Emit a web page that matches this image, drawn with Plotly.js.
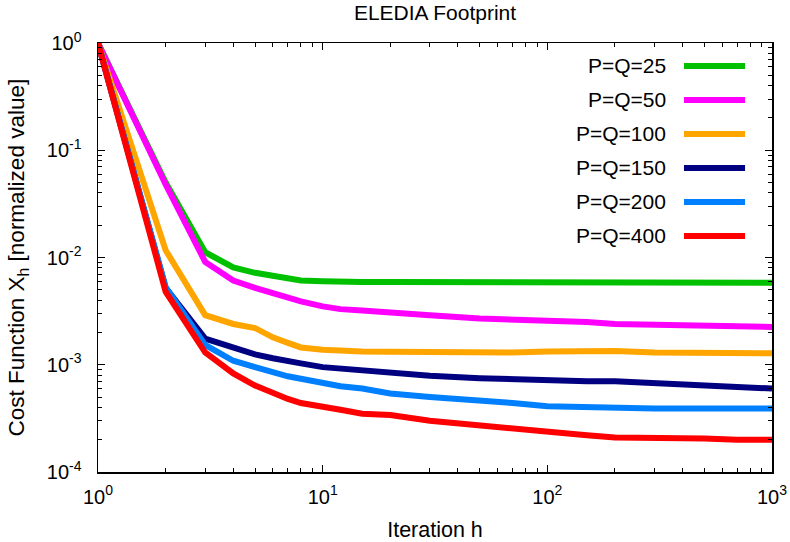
<!DOCTYPE html>
<html>
<head>
<meta charset="utf-8">
<script src="https://cdn.plot.ly/plotly-3.0.1.min.js"></script>
<style>html,body{margin:0;padding:0;background:#fff;}#chart{width:790px;height:542px;}</style>
</head>
<body>
<div id="chart"></div>
<script>
const iterations = [1,2,3,4,5,6,7,8,10,12,15,20,30,50,70,100,150,200,300,500,700,1000];
const seriesNames = ["P=Q=25","P=Q=50","P=Q=100","P=Q=150","P=Q=200","P=Q=400"];
const pq25  = [1,0.05,0.0112,0.0081,0.0072,0.0067,0.0063,0.0061,0.006,0.0059,0.0059,0.0059,0.0059,0.0058,0.0058,0.0058,0.0058,0.0058,0.0058,0.0058,0.0058,0.0058];
const pq50  = [1,0.048,0.0091,0.0061,0.0052,0.0046,0.0042,0.0039,0.0035,0.0033,0.0032,0.0031,0.0029,0.0027,0.00265,0.0026,0.0025,0.0024,0.00235,0.0023,0.00228,0.00225];
const pq100 = [1,0.0117,0.0029,0.0024,0.0022,0.0018,0.0016,0.00145,0.00138,0.00135,0.00133,0.00132,0.0013,0.0013,0.0013,0.00133,0.00136,0.00134,0.0013,0.00129,0.00128,0.00128];
const pq150 = [1,0.0052,0.00175,0.00143,0.00125,0.00115,0.0011,0.00103,0.00095,0.00092,0.0009,0.00084,0.00079,0.00075,0.00073,0.00071,0.0007,0.0007,0.00068,0.00065,0.00062,0.0006];
const pq200 = [1,0.0053,0.00153,0.00109,0.00095,0.00085,0.00078,0.00074,0.00068,0.00063,0.0006,0.00054,0.0005,0.00047,0.00044,0.00041,0.0004,0.0004,0.00039,0.00039,0.00039,0.00039];
const pq400 = [1,0.0048,0.0013,0.00083,0.00064,0.00054,0.00048,0.00044,0.0004,0.00038,0.00035,0.00034,0.0003,0.00027,0.00025,0.000235,0.00022,0.00021,0.00021,0.000205,0.0002,0.0002];
const seriesValues = [pq25,pq50,pq100,pq150,pq200,pq400];
const colors = ["#00c000","#ff00ff","#ffa500","#000080","#0080ff","#ff0000"];
const xTickVals = [1,10,100,1000];
const xTickText = ["10<sup>0</sup>","10<sup>1</sup>","10<sup>2</sup>","10<sup>3</sup>"];
const yTickVals = [1e-4,1e-3,1e-2,1e-1,1];
const yTickText = ["10<sup>-4</sup>","10<sup>-3</sup>","10<sup>-2</sup>","10<sup>-1</sup>","10<sup>0</sup>"];

function minorVals(lo, hi){
  const v=[];
  for(let e=lo;e<hi;e++){for(let m=2;m<=9;m++){v.push(m*Math.pow(10,e));}}
  return v;
}

const FONT = "Liberation Sans, Arial, sans-serif";
const traces = seriesValues.map((vals,i)=>({
  x: iterations, y: vals, type:'scatter', mode:'lines',
  name: seriesNames[i], line:{color:colors[i], width:6}, showlegend:false
}));

const annotations = [];
const shapes = [];
seriesNames.forEach((n,i)=>{
  const yp = 0.9464 - i*0.0792;
  annotations.push({xref:'paper',yref:'paper',x:0.8457,y:yp,xanchor:'right',yanchor:'middle',
    text:n,showarrow:false,font:{family:FONT,size:21,color:'#000'}});
  shapes.push({type:'line',xref:'paper',yref:'paper',x0:0.8694,x1:0.96,y0:yp,y1:yp,
    line:{color:colors[i],width:6}});
});
// y axis title (placed as rotated annotation to match the reference position)
annotations.push({xref:'paper',yref:'paper',x:-0.1187,y:0.5,xanchor:'center',yanchor:'middle',textangle:-90,
  text:'Cost Function X<sub>h</sub> [normalized value]',showarrow:false,font:{family:FONT,size:22.5,color:'#000'}});

const axisCommon = {
  type:'log', showgrid:false, zeroline:false, showline:true, linecolor:'#000', linewidth:1.5,
  mirror:'ticks', ticks:'inside', ticklen:7, tickwidth:1.2, tickcolor:'#000',
  tickfont:{family:FONT,size:20,color:'#000'}
};

const layout = {
  width:790, height:542,
  margin:{l:98,r:18,t:43,b:70},
  paper_bgcolor:'#fff', plot_bgcolor:'#fff',
  title:{text:'ELEDIA Footprint', font:{family:FONT,size:21,color:'#000'}, xref:'paper', x:0.5, xanchor:'center', y:0.976, yanchor:'middle'},
  xaxis: Object.assign({}, axisCommon, {
    range:[0,3], tickmode:'array', tickvals:xTickVals, ticktext:xTickText, ticklabelstandoff:6,
    minor:{tickmode:'array', tickvals:minorVals(0,3), ticks:'inside', ticklen:4, tickcolor:'#000', tickwidth:1},
    title:{text:'Iteration h', font:{family:FONT,size:21.5,color:'#000'}, standoff:16}
  }),
  yaxis: Object.assign({}, axisCommon, {
    range:[-4,0], tickmode:'array', tickvals:yTickVals, ticktext:yTickText, ticklabelstandoff:11,
    minor:{tickmode:'array', tickvals:minorVals(-4,0), ticks:'inside', ticklen:4, tickcolor:'#000', tickwidth:1}
  }),
  annotations: annotations,
  shapes: shapes,
  showlegend:false
};

Plotly.newPlot('chart', traces, layout, {displayModeBar:false, staticPlot:true});
</script>
</body>
</html>
